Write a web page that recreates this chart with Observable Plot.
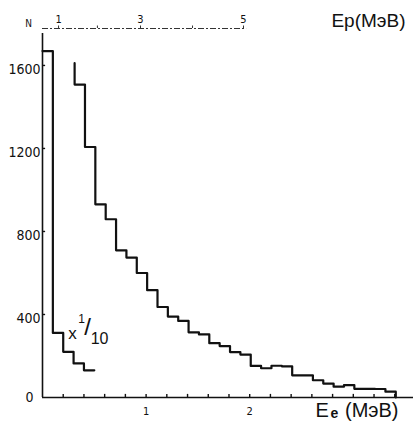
<!DOCTYPE html>
<html><head><meta charset="utf-8">
<script src="https://cdn.jsdelivr.net/npm/d3@7"></script>
<script src="https://cdn.jsdelivr.net/npm/@observablehq/plot@0.6"></script>
<style>html,body{margin:0;padding:0;background:#fff}svg{display:block}</style>
</head><body><div id="chart"></div>
<script>
// ---- data ----
// low-energy histogram (drawn ×1/10), bins of 0.1 MeV starting at 0
const lowStart = 0;
const binWidth = 0.1;
const lowCounts = [1669, 311, 220, 164, 131];
// main histogram, bins of 0.1 MeV starting at 0.31 MeV
const mainStart = 0.31;
const mainLeadIn = 1611;
const mainCounts = [1508, 1207, 931, 859, 709, 674, 600, 517, 436, 390, 369, 314, 304, 262, 248,
                    219, 207, 152, 141, 153, 150, 107, 107, 83, 67, 52, 60, 42, 42, 41, 28];
// axes
const yTicks = [0, 400, 800, 1200, 1600];
const xLabels = [1, 2];
const xMinorTicks = [0.2, 0.4, 0.6, 0.8, 1.0, 1.2, 1.4, 1.6, 1.8, 2.0, 2.2, 2.4, 2.6, 2.8, 3.0, 3.2, 3.4];
const epValues = [1, 2, 3, 4, 5];          // proton energy (MeV) on top scale
const epAtEe = [0.155, 0.53, 0.946, 1.448, 1.94]; // where they sit on the Ee scale
const epShown = [1, 3, 5];
const xMax = 3.581, yMax = 1778;

// ---- build step series ----
const lowPts = lowCounts.map((c, i) => ({x: lowStart + i * binWidth, y: c}));
lowPts.push({x: lowStart + lowCounts.length * binWidth, y: lowCounts[lowCounts.length - 1]});
const mainPts = [{x: mainStart, y: mainLeadIn}];
mainCounts.forEach((c, i) => mainPts.push({x: mainStart + i * binWidth, y: c}));
const mainEnd = mainStart + mainCounts.length * binWidth;
mainPts.push({x: mainEnd, y: mainCounts[mainCounts.length - 1]});
mainPts.push({x: mainEnd, y: 0});
const epTable = epValues.map((v, i) => ({ep: v, x: epAtEe[i]}));

const numFont = "'Liberation Sans Narrow', 'DejaVu Sans Condensed', 'Liberation Sans', sans-serif";
const titleFont = "'Liberation Sans', Arial, sans-serif";
const note = [{x: 0.3, y: 307}]; // where the ×1/10 note sits

const chart = Plot.plot({
  width: 413, height: 421,
  marginLeft: 42, marginRight: 0, marginTop: 28, marginBottom: 24,
  x: {domain: [0, xMax], axis: null},
  y: {domain: [0, yMax], axis: null},
  style: {background: "#fff", color: "#111", fontFamily: numFont},
  marks: [
    // axis lines
    Plot.ruleX([0], {y1: 0, y2: 1754, stroke: "#111", strokeWidth: 1.6}),
    Plot.ruleY([0], {x1: 0, x2: xMax, stroke: "#111", strokeWidth: 1.6}),
    Plot.ruleY([yMax], {x1: 0, x2: 1.97, stroke: "#333", strokeWidth: 1, strokeDasharray: "6,2,2,2"}),
    // ticks
    Plot.ruleX(xMinorTicks, {y1: 0, y2: 15, stroke: "#111", strokeWidth: 1.4}),
    Plot.ruleY(yTicks.filter(d => d > 0), {x1: 0, x2: 0.03, stroke: "#111", strokeWidth: 1.4}),
    Plot.ruleX(epTable, {x: "x", y1: yMax, y2: yMax + 12, stroke: "#333", strokeWidth: 1}),
    // histograms
    Plot.line(lowPts, {x: "x", y: "y", curve: "step-after", stroke: "#111", strokeWidth: 2.2}),
    Plot.line(mainPts, {x: "x", y: "y", curve: "step-after", stroke: "#111", strokeWidth: 2.2}),
    // y tick labels
    Plot.text(yTicks.filter(d => d > 0), {y: d => d, text: d => String(d), frameAnchor: "left",
      textAnchor: "end", dx: -2, dy: 4, fontSize: 14, fill: "#111"}),
    Plot.text(yTicks.filter(d => d === 0), {y: d => d, text: d => String(d), frameAnchor: "left",
      textAnchor: "end", dx: -9, dy: 0, fontSize: 14, fill: "#111"}),
    // x tick labels
    Plot.text(xLabels, {x: d => d, text: d => String(d), frameAnchor: "bottom", lineAnchor: "top",
      dy: 10, fontSize: 11, fill: "#111"}),
    // top Ep labels
    Plot.text(epTable.filter(d => epShown.includes(d.ep)), {x: "x", text: d => String(d.ep),
      frameAnchor: "top", lineAnchor: "bottom", dy: -6, fontSize: 11, fill: "#111"}),
    // axis titles
    Plot.text(["Ep(MэB)"], {frameAnchor: "top-right", textAnchor: "end", lineAnchor: "bottom",
      dx: -8, dy: -2, fontSize: 19, fontFamily: titleFont, fill: "#111"}),
    Plot.text(["E"], {frameAnchor: "bottom-right", textAnchor: "start", lineAnchor: "bottom",
      dx: -98, dy: 19, fontSize: 20, fontFamily: titleFont, fill: "#111"}),
    Plot.text(["e"], {frameAnchor: "bottom-right", textAnchor: "middle", lineAnchor: "bottom",
      dx: -79, dy: 20, fontSize: 14, fontWeight: "bold", fontFamily: titleFont, fill: "#111"}),
    Plot.text(["(MэB)"], {frameAnchor: "bottom-right", textAnchor: "end", lineAnchor: "bottom",
      dx: -15, dy: 19, fontSize: 20, fontFamily: titleFont, fill: "#111"}),
    Plot.text(["N"], {frameAnchor: "top-left", textAnchor: "middle", lineAnchor: "middle",
      dx: -14, dy: -5, fontSize: 10, fill: "#111"}),
    // ×1/10 annotation next to the low-energy histogram
    Plot.text(note, {x: "x", y: "y", text: () => "x", lineAnchor: "middle",
      dx: -1, fontSize: 17, fontFamily: titleFont, fill: "#111"}),
    Plot.text(note, {x: "x", y: "y", text: () => "1", lineAnchor: "middle",
      dx: 8, dy: -15, fontSize: 12, fontFamily: titleFont, fill: "#111"}),
    Plot.text(note, {x: "x", y: "y", text: () => "/", lineAnchor: "middle",
      dx: 14, dy: -6, fontSize: 24, fontFamily: titleFont, fill: "#111"}),
    Plot.text(note, {x: "x", y: "y", text: () => "10", lineAnchor: "middle",
      dx: 26, dy: 5, fontSize: 16, fontFamily: titleFont, fill: "#111"})
  ]
});
document.getElementById("chart").appendChild(chart);
</script>
</body></html>
